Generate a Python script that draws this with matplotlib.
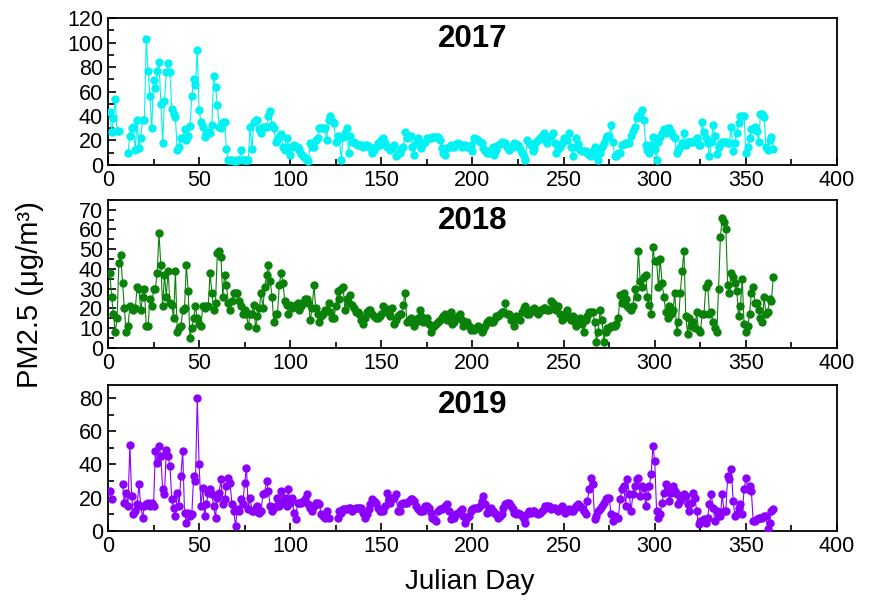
import numpy as np
import matplotlib
matplotlib.use("Agg")
import matplotlib.pyplot as plt
from matplotlib.ticker import MultipleLocator

nan = np.nan
years = ["2017", "2018", "2019"]
colors = ["#00F2F2", "#0A820A", "#8B00FF"]
ylims = [120, 75, 88]
ymajor = [20, 10, 20]
yminor = [10, 5, 10]

pm_2017 = [
    43, 27, 38, 54, 28, 28, nan, nan, nan, nan,
    10, 24, 30, 31, 12, 37, 14, 22, 37, 37,
    103, 77, 56, 30, 69, 63, 77, 84, 50, 18,
    52, 76, 83, 76, 46, 42, 39, 12, 15, 22,
    22, 29, 20, 24, 32, 56, 70, 65, 94, 45,
    35, 31, 23, 26, 27, 26, 33, 73, 64, 49,
    31, 30, 35, 35, 13, 4, 4, 4, 3, 3,
    4, 4, 12, 4, 4, 4, 4, 31, 13, 35,
    37, 37, 29, 26, 31, 31, 31, 40, 44, 33,
    30, 19, 20, 23, 25, 15, 12, 22, 15, 8,
    15, 16, 15, 15, 12, 9, 7, 6, 5, 3,
    18, 15, 15, 20, 22, 30, 30, 30, 30, 20,
    37, 40, 36, 34, 19, 24, 22, 4, 23, 26,
    30, 10, 24, 19, 19, 17, 16, 16, 16, 15,
    16, 16, 15, 15, 10, 12, 15, 18, 16, 20,
    22, 18, 15, 14, 12, 14, 16, 7, 9, 10,
    13, 15, 27, 22, 24, 24, 15, 8, 18, 22,
    17, 14, 17, 19, 22, 22, 22, 23, 23, 23,
    23, 20, 14, 10, 8, 14, 15, 16, 15, 15,
    17, 18, 16, 15, 16, 16, 15, 15, 16, 11,
    22, 21, 20, 19, 18, 14, 11, 10, 10, 12,
    15, 8, 12, 16, 17, 19, 18, 18, 15, 12,
    15, 15, 18, 17, 16, 13, 10, 7, 4, 20,
    18, 16, 11, 14, 19, 20, 22, 24, 26, 20,
    18, 23, 24, 26, 18, 10, 13, 15, 18, 22,
    21, 20, 26, 15, 7, 15, 22, 17, 12, 11,
    11, 11, 10, 8, 7, 11, 15, 10, 4, 10,
    15, 18, 22, 24, 24, 33, 19, 7, 7, 10,
    10, 16, 17, 18, 18, 18, 24, 28, 31, 38,
    40, 42, 45, 37, 16, 12, 10, 16, 23, 13,
    4, 19, 23, 26, 29, 26, 30, 30, 27, 24,
    22, 10, 12, 15, 18, 26, 16, 19, 19, 19,
    19, 20, 22, 16, 16, 35, 27, 22, 18, 7,
    19, 33, 24, 9, 15, 17, 19, 19, 19, 18,
    18, 31, 11, 18, 26, 34, 40, 40, 40, 10,
    15, 22, 29, 29, 31, 28, 19, 42, 42, 39,
    15, 12, 20, 23, 13,
]

pm_2018 = [
    38, 26, 17, 8, 15, 43, 47, 33, 20, 8,
    11, 21, 20, 19, 20, 31, 30, 19, 26, 30,
    11, 11, 25, 21, 30, 30, 38, 58, 42, 21,
    37, 26, 39, 23, 22, 15, 39, 8, 10, 11,
    19, 20, 42, 29, 5, 10, 15, 21, 15, 12,
    11, 21, 20, 21, 21, 38, 28, 19, 23, 48,
    49, 46, 26, 37, 32, 23, 19, 24, 28, 28,
    28, 24, 21, 17, 19, 17, 11, 17, 17, 22,
    10, 16, 20, 28, 20, 31, 37, 42, 34, 26,
    13, 17, 17, 32, 38, 33, 24, 22, 17, 22,
    20, 21, 22, 23, 19, 21, 23, 25, 25, 23,
    14, 20, 32, 20, 17, 13, 16, 17, 19, 19,
    23, 18, 15, 15, 21, 29, 25, 30, 31, 19,
    25, 23, 27, 22, 20, 18, 18, 17, 14, 12,
    15, 18, 19, 19, 17, 16, 15, 15, 16, 17,
    21, 20, 18, 17, 16, 20, 12, 14, 16, 17,
    17, 22, 28, 13, 14, 15, 13, 11, 13, 15,
    19, 16, 13, 14, 15, 12, 8, 10, 11, 12,
    13, 14, 15, 16, 17, 14, 16, 18, 12, 13,
    15, 16, 17, 14, 11, 13, 13, 11, 9, 10,
    9, 10, 11, 10, 8, 9, 11, 13, 14, 13,
    13, 14, 16, 16, 17, 18, 18, 23, 17, 17,
    14, 14, 11, 16, 15, 14, 18, 20, 21, 17,
    17, 19, 19, 20, 18, 17, 19, 19, 20, 20,
    19, 19, 24, 23, 21, 19, 21, 17, 14, 15,
    17, 19, 16, 14, 16, 13, 11, 13, 15, 12,
    8, 14, 16, 18, 18, 18, 13, 3, 8, 19,
    14, 3, 8, 10, 10, 11, 11, 11, 12, 15,
    27, 23, 28, 25, 21, 20, 19, 21, 30, 26,
    49, 34, 31, 36, 37, 26, 22, 17, 51, 44,
    44, 31, 45, 33, 26, 18, 15, 21, 17, 19,
    28, 8, 13, 28, 39, 49, 16, 7, 15, 11,
    13, 10, 18, 9, 8, 17, 17, 31, 33, 17,
    18, 13, 10, 8, 30, 56, 66, 64, 60, 32,
    28, 38, 36, 33, 29, 16, 21, 35, 12, 8,
    11, 17, 28, 31, 23, 23, 19, 15, 13, 26,
    17, 18, 25, 24, 36,
]

pm_2019 = [
    24, 19, nan, nan, nan, nan, nan, 28, 17, 23,
    15, 52, 21, 10, 12, 16, 28, 15, 8, 15,
    16, 17, 15, 17, 15, 48, 41, 51, 45, 25,
    22, 49, 45, 39, 19, 14, 9, 23, 15, 33,
    48, 11, 5, 11, 9, 10, 33, 30, 80, 40,
    15, 26, 9, 16, 23, 25, 22, 15, 8, 20,
    23, 31, 16, 19, 27, 32, 29, 16, 12, 3,
    13, 12, 19, 16, 29, 38, 13, 20, 12, 12,
    14, 15, 11, 12, 22, 23, 30, 24, 15, 12,
    14, 15, 20, 15, 24, 17, 20, 15, 25, 17,
    20, 11, 7, 17, 17, 17, 18, 19, 22, 16,
    14, 12, 15, 17, 17, 16, 10, 9, 8, 12,
    8, nan, nan, nan, nan, 8, 12, 11, 13, 13,
    13, 14, 14, 12, 13, 14, 14, 14, 14, 11,
    8, 10, 13, 16, 19, 18, 17, 14, 12, 12,
    12, 15, 23, 19, 17, 20, 20, 22, 12, 12,
    16, 17, 17, 17, 18, 19, 19, 18, 15, 13,
    12, 12, 12, 15, 15, 14, 11, 8, 7, 6,
    12, 13, 13, 14, 15, 16, 12, 7, 8, 8,
    10, 11, 12, 13, 9, 5, 8, 9, 12, 13,
    14, 14, 14, 15, 18, 21, 16, 11, 13, 14,
    12, 11, 10, 8, 9, 10, 14, 16, 17, 17,
    15, 13, 11, 10, 11, 10, 9, 7, 5, 10,
    12, 11, 12, 12, 11, 10, 11, 12, 13, 15,
    15, 15, 13, 14, 14, 13, 12, 13, 15, 13,
    11, 12, 13, 12, 12, 14, 15, 16, 15, 14,
    12, 10, 18, 25, 32, 28, 7, 9, 12, 13,
    15, 17, 19, 20, 20, 10, 6, 9, 8, 8,
    19, 25, 27, 15, 31, 22, 12, 22, 27, 31,
    32, 21, 27, 26, 15, 21, 27, 34, 51, 42,
    12, 8, 10, 17, 23, 28, 25, 18, 23, 27,
    24, 22, 16, 18, 20, 22, 21, 16, 12, 17,
    23, 20, 12, 4, 6, 6, 7, 5, 8, 16,
    22, 14, 6, 12, 10, 9, 22, 12, 12, 33,
    31, 37, 18, 9, 10, 14, 16, 10, 25, 32,
    25, 27, 24, 6, 6, 7, 8, 8, 8, 9,
    9, 1, 5, 12, 13,
]

series = [pm_2017, pm_2018, pm_2019]
days = np.arange(1, 366)

plt.rcParams['font.family'] = ['Liberation Sans', 'DejaVu Sans']

fig = plt.figure(figsize=(8.7, 6.02), dpi=100)
boxes = [
    (0.1241, 0.726, 0.838, 0.244),
    (0.1241, 0.422, 0.838, 0.246),
    (0.1241, 0.118, 0.838, 0.243),
]

for i, (yr, vals, col) in enumerate(zip(years, series, colors)):
    vals = np.array(vals[:365], dtype=float)
    ax = fig.add_axes(boxes[i])
    ax.plot(days[:len(vals)], vals, '-', color=col, lw=0.8, zorder=2)
    ax.plot(days[:len(vals)], vals, 'o', color=col, ms=5, mec=col, zorder=3)
    ax.set_xlim(0, 400)
    ax.set_ylim(0, ylims[i])
    ax.xaxis.set_major_locator(MultipleLocator(50))
    ax.xaxis.set_minor_locator(MultipleLocator(25))
    ax.yaxis.set_major_locator(MultipleLocator(ymajor[i]))
    ax.yaxis.set_minor_locator(MultipleLocator(yminor[i]))
    ax.tick_params(which='both', direction='in', top=False, right=False,
                   labelsize=15.5, width=1.2)
    ax.tick_params(which='major', length=6)
    ax.tick_params(which='minor', length=4.5)
    for s in ax.spines.values():
        s.set_linewidth(1.3)
    ax.text(0.5, 0.86, yr, transform=ax.transAxes, ha='center', va='center',
            fontsize=22.5, fontweight='bold')

fig.text(0.540, 0.033, 'Julian Day', ha='center', va='center', fontsize=20)
fig.text(0.035, 0.51, 'PM2.5 (μg/m³)', ha='center', va='center',
         rotation=90, fontsize=21)

fig.savefig('out.png', dpi=100)
